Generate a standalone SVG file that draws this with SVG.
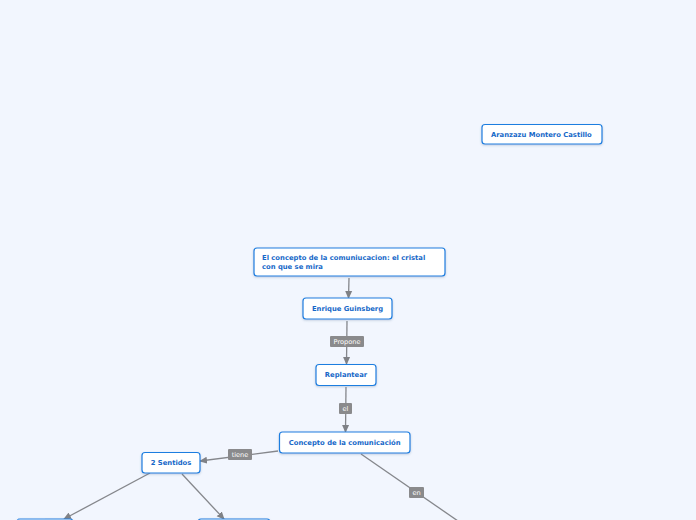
<svg xmlns="http://www.w3.org/2000/svg" width="696" height="520" viewBox="0 0 696 520">
<defs>
<marker id="arr" markerWidth="8" markerHeight="8" refX="7" refY="4" orient="auto" markerUnits="userSpaceOnUse"><path d="M0,0.5 L8,4 L0,7.5 Z" fill="#7f8186"/></marker>
<filter id="sh" x="-10%" y="-20%" width="120%" height="150%"><feDropShadow dx="0" dy="1" stdDeviation="0.8" flood-color="#5a7aa0" flood-opacity="0.35"/></filter>
</defs>
<style>
.n rect{fill:#ffffff;stroke:#1e7ee0;stroke-width:1.2;filter:url(#sh)}
.n text{font-family:"DejaVu Sans",Verdana,sans-serif;font-weight:bold;font-size:6.8px;fill:#1668c8}
.c line{stroke:#85878c;stroke-width:1.3;fill:none}
.lb rect{fill:#8a8a8c}
.lb text{font-family:"DejaVu Sans",Verdana,sans-serif;font-size:6.6px;fill:#ffffff;text-anchor:middle}
</style>
<rect x="0" y="0" width="696" height="520" fill="#f2f6fe"/>
<g id="connectors" class="c">
<line x1="349" y1="278" x2="348.5" y2="298" marker-end="url(#arr)"/>
<line x1="347" y1="321" x2="346.5" y2="364" marker-end="url(#arr)"/>
<line x1="346" y1="387" x2="345.5" y2="432" marker-end="url(#arr)"/>
<line x1="278" y1="451" x2="200" y2="461" marker-end="url(#arr)"/>
<line x1="361" y1="454" x2="458" y2="521"/>
<line x1="150" y1="473" x2="64" y2="519" marker-end="url(#arr)"/>
<line x1="182" y1="474" x2="224" y2="519" marker-end="url(#arr)"/>
</g>
<g id="labels">
<g class="lb"><rect x="330" y="336" width="34" height="11" rx="1"/><text x="347" y="344">Propone</text></g>
<g class="lb"><rect x="339" y="403" width="13" height="11" rx="1"/><text x="345.5" y="411">el</text></g>
<g class="lb"><rect x="228" y="449" width="24" height="11" rx="1"/><text x="240" y="457">tiene</text></g>
<g class="lb"><rect x="409" y="487" width="15" height="11" rx="1"/><text x="416.5" y="495">en</text></g>
</g>
<g id="n-aranzazu" class="n"><rect x="482" y="124.5" width="120" height="19.5" rx="3"/><text x="491" y="136.5">Aranzazu Montero Castillo</text></g>
<g id="n-cristal" class="n"><rect x="254" y="248" width="191" height="28" rx="3"/><text x="262" y="260">El concepto de la comuniucacion: el cristal</text><text x="262" y="269">con que se mira</text></g>
<g id="n-enrique" class="n"><rect x="303" y="298" width="89" height="21" rx="3"/><text x="347.5" y="310.7" text-anchor="middle">Enrique Guinsberg</text></g>
<g id="n-replantear" class="n"><rect x="316" y="364.5" width="60" height="21" rx="3"/><text x="346" y="377" text-anchor="middle">Replantear</text></g>
<g id="n-concepto" class="n"><rect x="279.5" y="432" width="130.5" height="21" rx="3"/><text x="344.7" y="444.5" text-anchor="middle">Concepto de la comunicación</text></g>
<g id="n-sentidos" class="n"><rect x="142" y="452.5" width="58" height="20.5" rx="3"/><text x="171" y="464.8" text-anchor="middle">2 Sentidos</text></g>
<g id="n-left" class="n"><rect x="17" y="519" width="56" height="20" rx="3"/><line x1="18" y1="519" x2="45" y2="519" stroke="#8fbdf0" stroke-width="1.2"/></g>
<g id="n-mid" class="n"><rect x="198" y="519" width="72" height="20" rx="3"/></g>
</svg>
